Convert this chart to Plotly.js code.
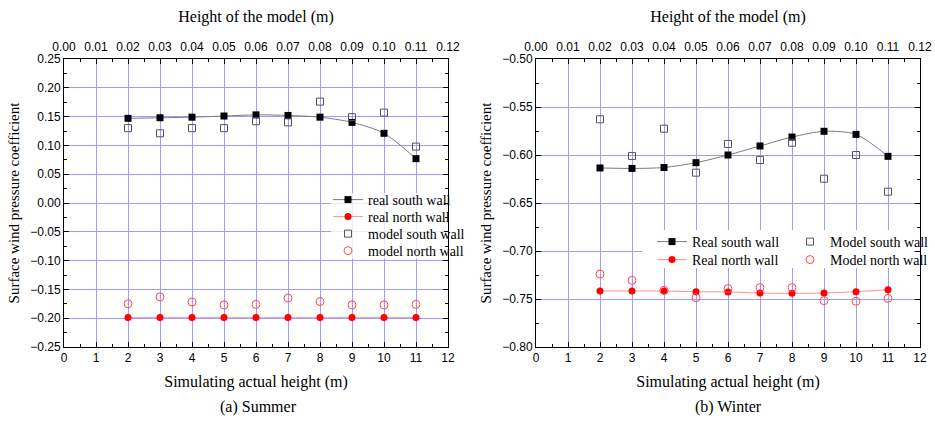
<!DOCTYPE html>
<html><head><meta charset="utf-8">
<script src="https://cdn.plot.ly/plotly-3.0.1.min.js"></script>
<style>html,body{margin:0;padding:0;background:#fff}#chart{width:935px;height:422px}</style>
</head><body><div id="chart"></div>
<script>
// Simulating actual height (m)
const heights = [2, 3, 4, 5, 6, 7, 8, 9, 10, 11];
// Height of the model (m) — top axis
const modelHeights = [0.02, 0.03, 0.04, 0.05, 0.06, 0.07, 0.08, 0.09, 0.10, 0.11];
// (a) Summer
const summerRealSouth  = [0.147, 0.148, 0.149, 0.151, 0.153, 0.152, 0.149, 0.140, 0.121, 0.077];
const summerRealNorth  = [-0.199, -0.199, -0.199, -0.199, -0.199, -0.199, -0.199, -0.199, -0.199, -0.199];
const summerModelSouth = [0.130, 0.121, 0.130, 0.130, 0.142, 0.140, 0.176, 0.149, 0.157, 0.098];
const summerModelNorth = [-0.175, -0.163, -0.172, -0.177, -0.176, -0.165, -0.171, -0.177, -0.177, -0.176];
// (b) Winter
const winterRealSouth  = [-0.6135, -0.614, -0.613, -0.608, -0.600, -0.5906, -0.5813, -0.5753, -0.5785, -0.6014];
const winterRealNorth  = [-0.7417, -0.7417, -0.7417, -0.7424, -0.7427, -0.7438, -0.7441, -0.7438, -0.7424, -0.7403];
const winterModelSouth = [-0.5628, -0.601, -0.5726, -0.6184, -0.5885, -0.6052, -0.5872, -0.6247, -0.600, -0.6382];
const winterModelNorth = [-0.724, -0.7306, -0.741, -0.7486, -0.7392, -0.7382, -0.7382, -0.7517, -0.7524, -0.7493];

const serif = 'Liberation Serif, Times New Roman, serif';
const sans = 'Liberation Sans, Arial, sans-serif';
const gridColor = '#9c9cff';

function realTrace(name, y, xa, ya, lg, dark) {
  return {
    type: 'scatter', mode: 'lines+markers', name: name, x: heights, y: y,
    xaxis: xa, yaxis: ya, legend: lg,
    line: {shape: 'spline', smoothing: 0.8, width: 1, color: dark ? '#7a7a7a' : '#ff9090'},
    marker: dark ? {symbol: 'square', size: 7, color: '#000'} : {symbol: 'circle', size: 7, color: '#ff0000'}
  };
}
function modelTrace(name, y, xa, ya, lg, dark) {
  return {
    type: 'scatter', mode: 'markers', name: name, x: heights, y: y,
    xaxis: xa, yaxis: ya, legend: lg,
    marker: dark ? {symbol: 'square-open', size: 7, color: '#555', line: {width: 1}}
                 : {symbol: 'circle-open', size: 8, color: '#ff4a4a', line: {width: 1}}
  };
}
function topTrace(y, xa, ya) {
  return {
    type: 'scatter', mode: 'markers', x: modelHeights, y: y, xaxis: xa, yaxis: ya,
    showlegend: false, hoverinfo: 'skip', marker: {opacity: 0, size: 1}
  };
}

const data = [
  realTrace('real south wall', summerRealSouth, 'x', 'y', 'legend', true),
  realTrace('real north wall', summerRealNorth, 'x', 'y', 'legend4', false),
  modelTrace('model south wall', summerModelSouth, 'x', 'y', 'legend5', true),
  modelTrace('model north wall', summerModelNorth, 'x', 'y', 'legend6', false),
  realTrace('Real south wall', winterRealSouth, 'x2', 'y2', 'legend2', true),
  realTrace('Real north wall', winterRealNorth, 'x2', 'y2', 'legend7', false),
  modelTrace('Model south wall', winterModelSouth, 'x2', 'y2', 'legend3', true),
  modelTrace('Model north wall', winterModelNorth, 'x2', 'y2', 'legend8', false),
  topTrace(summerRealSouth, 'x3', 'y'),
  topTrace(winterRealSouth, 'x4', 'y2')
];

const yDom = [1 - 347 / 422, 1 - 59 / 422];
function bottomX(dom, anchor) {
  return {
    domain: dom, anchor: anchor, range: [0, 12], tick0: 0, dtick: 1,
    ticks: 'inside', ticklen: 5, tickcolor: '#000', tickwidth: 1,
    showline: true, linecolor: '#000', linewidth: 1, mirror: true,
    showgrid: true, gridcolor: gridColor, gridwidth: 1, zeroline: false,
    tickfont: {family: sans, size: 12, color: '#000'},
    minor: {ticks: 'inside', ticklen: 3, dtick: 0.5, tick0: 0, tickcolor: '#000', showgrid: false},
    title: {text: 'Simulating actual height (m)', font: {family: serif, size: 16, color: '#000'}, standoff: 11}
  };
}
function topX(over, anchor) {
  return {
    overlaying: over, anchor: anchor, side: 'top', range: [0, 0.12], tick0: 0, dtick: 0.01,
    tickformat: '.2f', ticks: 'inside', ticklen: 5, tickcolor: '#000', ticklabelstandoff: 2,
    showline: true, linecolor: '#000', linewidth: 1, showgrid: false, zeroline: false,
    tickfont: {family: sans, size: 12, color: '#000'},
    minor: {ticks: 'inside', ticklen: 3, dtick: 0.005, tick0: 0, tickcolor: '#000', showgrid: false},
    title: {text: 'Height of the model (m)', font: {family: serif, size: 16, color: '#000'}, standoff: 13}
  };
}
function leftY(anchor, range, tick0) {
  return {
    domain: yDom, anchor: anchor, range: range, tick0: tick0, dtick: 0.05, tickformat: '.2f',
    ticks: 'inside', ticklen: 5, tickcolor: '#000',
    showline: true, linecolor: '#000', linewidth: 1, mirror: 'ticks',
    showgrid: true, gridcolor: gridColor, gridwidth: 1, zeroline: false,
    tickfont: {family: sans, size: 12, color: '#000'},
    minor: {ticks: 'inside', ticklen: 3, dtick: 0.025, tick0: tick0, tickcolor: '#000', showgrid: false},
    title: {text: 'Surface wind pressure coefficient', font: {family: serif, size: 15, color: '#000'}, standoff: 6}
  };
}
function lg(xPx, yPx) {
  return {x: xPx / 935, xanchor: 'left', y: 1 - yPx / 422, yanchor: 'middle',
    bgcolor: 'rgba(0,0,0,0)', borderwidth: 0, font: {family: serif, size: 14, color: '#000'}};
}
function box(x0, x1, y0, y1, fill) {
  return {type: 'rect', xref: 'paper', yref: 'paper', layer: 'above',
    x0: x0 / 935, x1: x1 / 935, y0: 1 - y1 / 422, y1: 1 - y0 / 422,
    fillcolor: fill, line: {width: 0}};
}

const layout = {
  width: 935, height: 422,
  margin: {l: 0, r: 0, t: 0, b: 0},
  paper_bgcolor: '#fff', plot_bgcolor: '#fff',
  showlegend: true,
  xaxis: bottomX([64 / 935, 448 / 935], 'y'),
  yaxis: leftY('x', [-0.25, 0.25], -0.25),
  xaxis3: topX('x', 'y'),
  xaxis2: bottomX([536 / 935, 920 / 935], 'y2'),
  yaxis2: leftY('x2', [-0.80, -0.50], -0.80),
  xaxis4: topX('x2', 'y2'),
  legend: lg(328, 200),
  legend4: lg(328, 217),
  legend5: lg(328, 234),
  legend6: lg(328, 251),
  legend2: lg(652, 242),
  legend7: lg(652, 260),
  legend3: lg(790, 242),
  legend8: lg(790, 260),
  shapes: [
    box(331, 444, 193, 259, 'rgba(255,255,255,0.8)'),
    box(642, 914, 230, 268, '#ffffff')
  ],
  annotations: [
    {text: '(a) Summer', x: 258 / 935, y: 1 - 407 / 422, xref: 'paper', yref: 'paper', showarrow: false,
      xanchor: 'center', yanchor: 'middle', font: {family: serif, size: 16, color: '#000'}},
    {text: '(b) Winter', x: 728 / 935, y: 1 - 407 / 422, xref: 'paper', yref: 'paper', showarrow: false,
      xanchor: 'center', yanchor: 'middle', font: {family: serif, size: 16, color: '#000'}}
  ]
};

Plotly.newPlot('chart', data, layout, {displayModeBar: false, staticPlot: true});
</script>
</body></html>
